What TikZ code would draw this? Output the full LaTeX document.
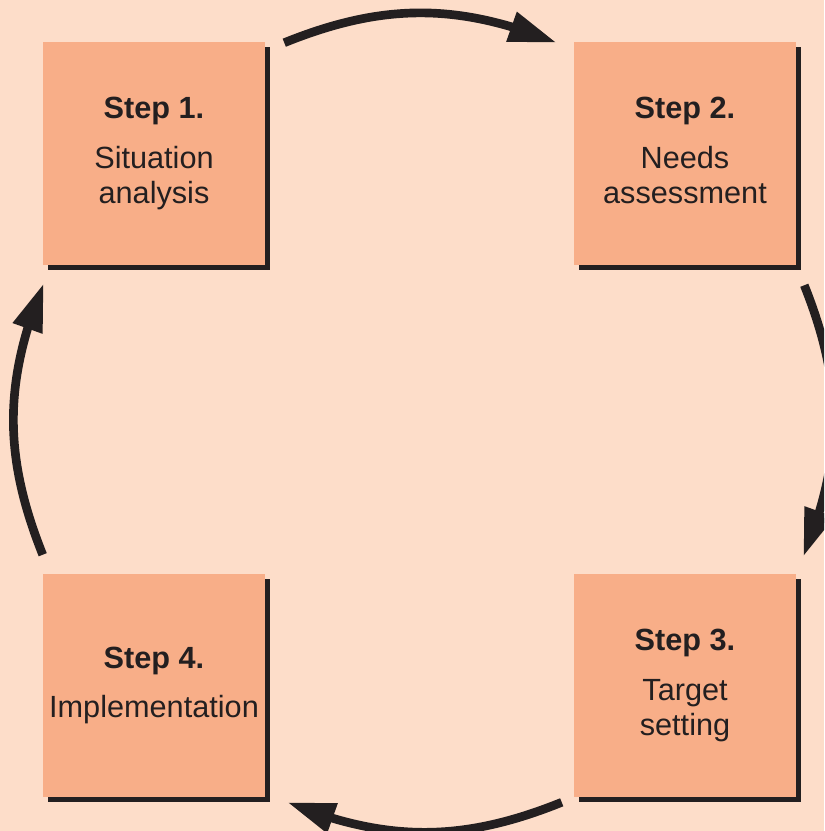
\documentclass[tikz,border=0pt]{standalone}
\usepackage{fontspec}
\setmainfont{Liberation Sans}
\usetikzlibrary{shadows,arrows.meta,bending}
\definecolor{bgc}{HTML}{FDDDC9}
\definecolor{boxc}{HTML}{F8AE88}
\definecolor{darkc}{HTML}{231F20}
\begin{document}
\begin{tikzpicture}[x=0.75pt,y=0.75pt,
  stepbox/.style={rectangle, fill=boxc, minimum width=166.5pt, minimum height=167.25pt,
    inner sep=0pt, align=center, text=darkc,
    font=\fontsize{23pt}{26.25pt}\selectfont,
    drop shadow={shadow xshift=3.75pt, shadow yshift=-3.75pt, fill=darkc, opacity=1}},
  cyc/.style={draw=darkc, line width=6.5pt, bend left=22,
    -{Triangle[length=36pt,width=22pt,flex]}}]
\useasboundingbox (0,0) rectangle (824,-831);
\clip (0,0) rectangle (824,-831);
\fill[bgc] (0,0) rectangle (824,-831);
\node[stepbox] (s1) at (154,-153.5) {{\bfseries Step 1.}\\[11pt]Situation\\analysis};
\node[stepbox] (s2) at (685,-153.5) {{\bfseries Step 2.}\\[11pt]Needs\\assessment\vphantom{y}};
\node[stepbox] (s3) at (685,-685.5) {{\bfseries Step 3.}\\[11pt]Target\\setting};
\node[stepbox] (s4) at (154,-685.5) {{\bfseries Step 4.}\\[11pt]Implementation};
\draw[cyc] ([shift={(19,-1)}]s1.north east) to ([shift={(-17,-1)}]s2.north west);
\draw[cyc] ([shift={(8,-20)}]s2.south east) to ([shift={(7,17)}]s3.north east);
\draw[cyc] ([shift={(-12,-5)}]s3.south west) to ([shift={(22,-5)}]s4.south east);
\draw[cyc] ([shift={(0,19)}]s4.north west) to ([shift={(1,-18)}]s1.south west);
\end{tikzpicture}
\end{document}
